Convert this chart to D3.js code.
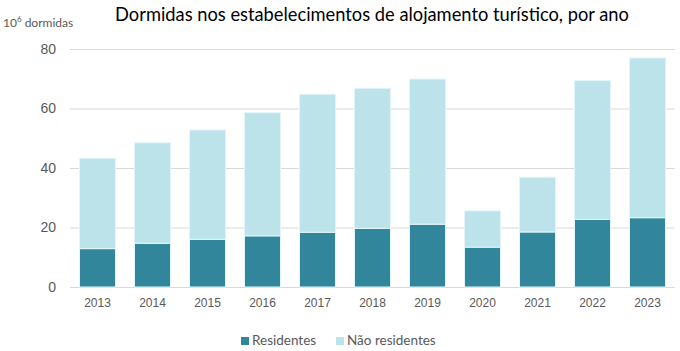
<!DOCTYPE html>
<html>
<head>
<meta charset="utf-8">
<script src="https://cdn.jsdelivr.net/npm/d3@7"></script>
<style>
  body { margin: 0; background: #fff; }
  svg { display: block; font-family: Lato, "Open Sans", sans-serif; }
  .tick text { fill: #595959; }
</style>
</head>
<body>
<svg id="chart" width="680" height="351"></svg>
<script>
const years = ['2013','2014','2015','2016','2017','2018','2019','2020','2021','2022','2023'];
const residentes = [12.9, 14.7, 16.0, 17.2, 18.4, 19.7, 21.1, 13.4, 18.5, 22.7, 23.3];
const naoResidentes = [30.4, 33.8, 36.8, 41.4, 46.4, 47.1, 48.8, 12.2, 18.4, 46.7, 53.7];
const yTicks = [0, 20, 40, 60, 80];
const seriesNames = ['Residentes', 'Não residentes'];
const colors = ['#31869b', '#bde3ea'];

const margin = {top: 49, right: 5, bottom: 64, left: 70};
const svg = d3.select('#chart');
const width = 680 - margin.left - margin.right;
const height = 351 - margin.top - margin.bottom;

const g = svg.append('g')
    .attr('transform', `translate(${margin.left},${margin.top})`);

const x = d3.scaleBand()
    .domain(years)
    .range([0, width])
    .paddingInner(0.345)
    .paddingOuter(0.1725);

const y = d3.scaleLinear()
    .domain([0, 80])
    .range([height, 0]);

// gridlines
g.append('g')
    .call(d3.axisLeft(y).tickValues(yTicks).tickSize(-width).tickPadding(14))
    .call(a => a.select('.domain').remove())
    .call(a => a.selectAll('line').attr('stroke', '#d9d9d9'))
    .call(a => a.selectAll('text').attr('font-size', 14));

const rows = years.map((yr, i) => ({year: yr, r: residentes[i], n: naoResidentes[i]}));
const stack = d3.stack().keys(['r', 'n'])(rows);

g.append('g')
    .selectAll('g')
    .data(stack)
    .join('g')
    .attr('fill', (d, i) => colors[i])
    .selectAll('rect')
    .data(d => d)
    .join('rect')
    .attr('x', d => x(d.data.year))
    .attr('y', d => y(d[1]))
    .attr('width', x.bandwidth())
    .attr('height', d => y(d[0]) - y(d[1]))
    .attr('stroke', '#e2f6fa')
    .attr('stroke-width', 1);

g.append('g')
    .attr('transform', `translate(0,${height})`)
    .call(d3.axisBottom(x).tickSize(0).tickPadding(11))
    .call(a => a.select('.domain').remove())
    .call(a => a.selectAll('text').attr('font-size', 12));

// title
svg.append('text')
    .attr('x', 372)
    .attr('y', 21)
    .attr('text-anchor', 'middle')
    .attr('font-size', 18.3)
    .attr('fill', '#000')
    .text('Dormidas nos estabelecimentos de alojamento turístico, por ano');

// y unit label
const unit = svg.append('text')
    .attr('x', 3)
    .attr('y', 27)
    .attr('font-size', 12)
    .attr('fill', '#595959');
unit.append('tspan').text('10');
unit.append('tspan').attr('dy', -5).attr('font-size', 8).text('6');
unit.append('tspan').attr('dy', 5).text(' dormidas');

// legend
const legendX = [241, 336];
const legend = svg.append('g');
seriesNames.forEach((name, i) => {
    legend.append('rect')
        .attr('x', legendX[i])
        .attr('y', 337)
        .attr('width', 8)
        .attr('height', 8)
        .attr('fill', colors[i]);
    legend.append('text')
        .attr('x', legendX[i] + 11)
        .attr('y', 345)
        .attr('font-size', 13.5)
        .attr('fill', '#595959')
        .text(name);
});
</script>
</body>
</html>
